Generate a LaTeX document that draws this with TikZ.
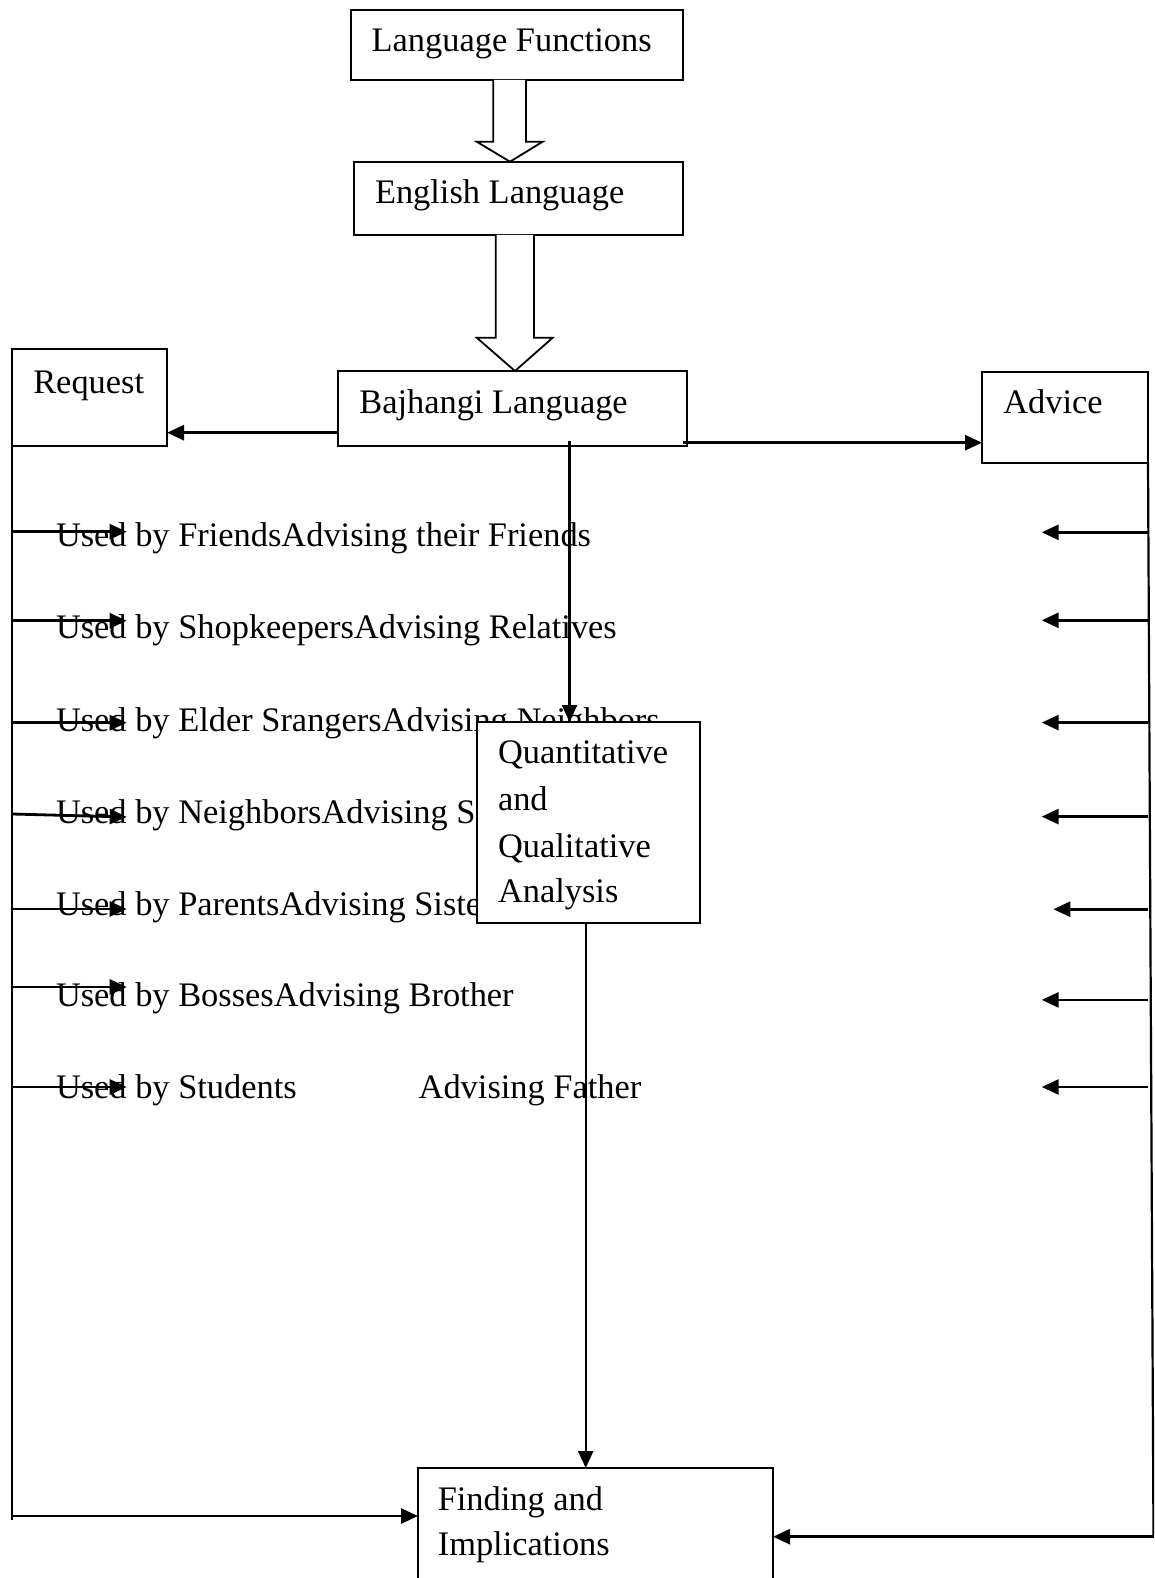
\documentclass[tikz,border=0pt]{standalone}
\usepackage{fontspec}
\setmainfont{Liberation Serif}
\usetikzlibrary{arrows.meta,calc}
\begin{document}
\begin{tikzpicture}[x=1pt,y=-1pt,
  font=\fontsize{34.4}{40}\selectfont,
  box/.style={draw, line width=1.8pt, fill=white, inner sep=0pt, outer sep=0pt, anchor=north west},
  txt/.style={anchor=base west, inner sep=0pt, outer sep=0pt},
  arr/.style={line width=2.8pt, -{Triangle[length=17pt,width=15pt]}},
  hollow/.style={draw, line width=1.8pt, fill=white, line join=miter}]
\useasboundingbox (0,0) rectangle (1154,1578);
\clip (0,0) rectangle (1154,1578);
\fill[white] (0,0) rectangle (1154,1578);

% row texts
\node[txt] (u1) at (56,546.7) {Used by FriendsAdvising their Friends};
\node[txt] (u2) at (56,638.5) {Used by ShopkeepersAdvising Relatives};
\node[txt] (u3) at (56,731.7) {Used by Elder SrangersAdvising Neighbors};
\node[txt] (u4) at (56,823) {Used by NeighborsAdvising S};
\node[txt] (u5) at (56,915) {Used by ParentsAdvising Siste};
\node[txt] (u6) at (56,1006) {Used by BossesAdvising Brother};
\node[txt] (u7) at (56,1098) {Used by Students};
\node[txt] (u8) at (418.7,1098) {Advising Father};

% boxes
\node[box, minimum width=332pt, minimum height=70pt] (lf) at (351,10) {};
\node[box, minimum width=329pt, minimum height=73pt] (el) at (354,162) {};
\node[box, minimum width=349pt, minimum height=75pt] (bl) at (338,371) {};
\node[box, minimum width=155pt, minimum height=97pt] (req) at (12,349) {};
\node[box, minimum width=166pt, minimum height=91pt] (adv) at (982,372) {};
\node[box, minimum width=223pt, minimum height=201pt] (qa) at (477,722) {};
\node[box, minimum width=355pt, minimum height=150pt] (fi) at (418,1468) {};

% box labels
\node[txt] (tlf) at (371.7,51.7) {Language Functions};
\node[txt] (tel) at (375,203.3) {English Language};
\node[txt] (tbl) at (359.3,413.3) {Bajhangi Language};
\node[txt] (treq) at (33.3,393.3) {Request};
\node[txt] (tadv) at (1003.3,413.3) {Advice};
\node[txt] (tq1) at (498,763) {Quantitative};
\node[txt] (tq2) at (498,810) {and};
\node[txt] (tq3) at (498,857) {Qualitative};
\node[txt] (tq4) at (498,902) {Analysis};
\node[txt] (tf1) at (437.8,1510) {Finding and};
\node[txt] (tf2) at (437.8,1555) {Implications};

% hollow arrows
\draw[hollow] (493.3,80) -- (493.3,141.7) -- (476.7,141.7) -- (510,161.7) -- (542.7,141.7) -- (526,141.7) -- (526,80);
\draw[hollow] (495.7,235) -- (495.7,337.7) -- (476.7,337.7) -- (515,371) -- (552.7,337.7) -- (534,337.7) -- (534,235);

% connectors
\coordinate (ya) at (0,432.7);
\draw[arr] (bl.west |- ya) -- (req.east |- ya);
\coordinate (yb) at (0,442.7);
\draw[arr] (683,442.7) -- (adv.west |- yb);
\coordinate (xc) at (569.5,441);
\draw[arr, line width=2.2pt] (xc) -- (xc |- qa.north);
\coordinate (xd) at (585.7,0);
\draw[arr, line width=2.2pt] (qa.south -| xd) -- (fi.north -| xd);
\coordinate (lb) at (12.7,1516);
\draw[line width=2.2pt] (req.south west) -- ($(req.south west |- lb)+(0,4)$);
\draw[arr] (req.south west |- lb) -- (fi.west |- lb);
\coordinate (rb) at (1153.5,1536.7);
\draw[line width=2.2pt] (adv.south east) -- (rb);
\draw[arr] (rb) -- (fi.east |- rb);

% left small arrows
\foreach \n/\y in {1/531.7,2/620.7,3/722.7,5/909,6/987,7/1087} {
  \coordinate (la\n) at (126.7,\y);
  \draw[arr] (la\n -| req.west) -- (la\n);
}
\coordinate (la4) at (126.7,817);
\draw[arr] ($(la4 -| req.west)+(0,-3)$) -- (la4);

% right small arrows
\foreach \n/\y/\x in {1/532.3/1041.7,2/620.3/1041.7,3/722.6/1041.7,4/816.6/1041.7,5/909.2/1053.3,6/999.9/1041.7,7/1087/1041.7} {
  \coordinate (ra\n) at (\x,\y);
  \draw[arr] (ra\n -| adv.east) -- (ra\n);
}
\end{tikzpicture}
\end{document}
